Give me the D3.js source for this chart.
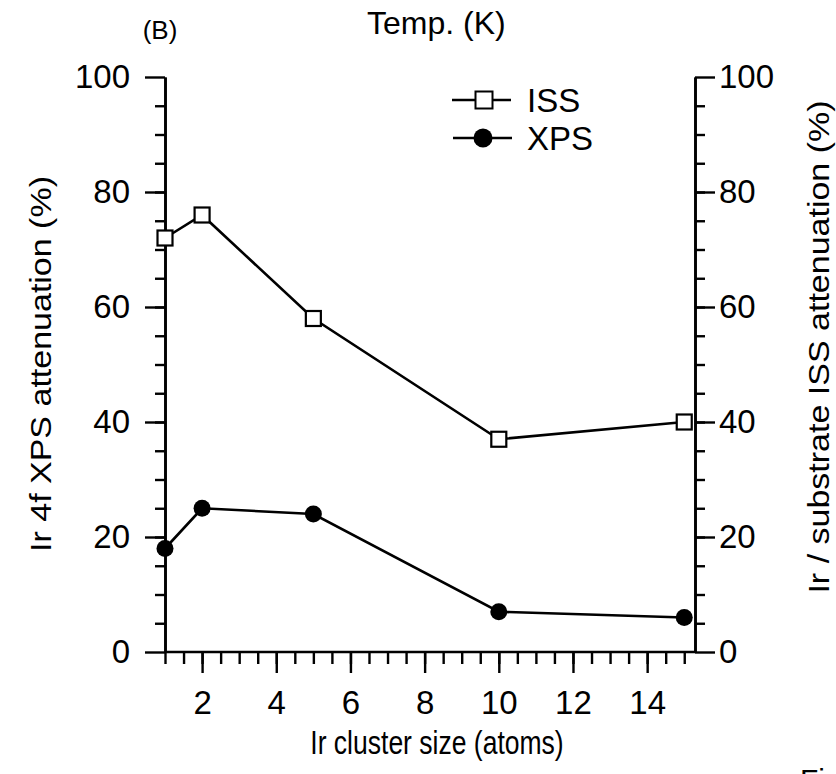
<!DOCTYPE html>
<html>
<head>
<meta charset="utf-8">
<script src="https://cdn.jsdelivr.net/npm/d3@7"></script>
<style>
  body { margin: 0; background: #fff; }
  svg text { font-family: "Liberation Sans", Arial, sans-serif; fill: #000; }
</style>
</head>
<body>
<svg id="chart" width="836" height="774"></svg>
<script>
// cluster size (atoms) and attenuation values (%)
var sizes = [1, 2, 5, 10, 15];
var issVals = [72, 76, 58, 37, 40];
var xpsVals = [18, 25, 24, 7, 6];

var xMajor = [2, 4, 6, 8, 10, 12, 14];
var xMinor = d3.range(1, 15.01, 0.5);
var yMajor = [0, 20, 40, 60, 80, 100];
var yMinor = d3.range(5, 100, 5);

var svg = d3.select('#chart');

var x = d3.scaleLinear().domain([1, 15.29]).range([165, 695]);
var y = d3.scaleLinear().domain([0, 100]).range([652, 77]);

function styleAxis(g) {
    g.selectAll('path.domain').attr('stroke', '#000').attr('stroke-width', 2.6);
    g.selectAll('.tick line').attr('stroke', '#000').attr('stroke-width', 2.4);
    g.selectAll('.tick text').style('font-size', '33px');
}

// x axis: minor ticks every 0.5, long ticks at even numbers
var xa = svg.append('g').attr('transform', 'translate(0,' + y(0) + ')')
    .call(d3.axisBottom(x).tickValues(xMinor).tickSize(12).tickSizeOuter(0).tickFormat(''));
xa.select('path.domain').remove();
var xb = svg.append('g').attr('transform', 'translate(0,' + y(0) + ')')
    .call(d3.axisBottom(x).tickValues(xMajor).tickSize(21).tickPadding(18).tickSizeOuter(0));
xb.select('path.domain').attr('d', 'M' + x(1) + ',0H' + x.range()[1]);
styleAxis(xa); styleAxis(xb);

// left axis
var ya = svg.append('g').attr('transform', 'translate(' + x(1) + ',0)')
    .call(d3.axisLeft(y).tickValues(yMinor).tickSize(10).tickSizeOuter(0).tickFormat(''));
var yb = svg.append('g').attr('transform', 'translate(' + x(1) + ',0)')
    .call(d3.axisLeft(y).tickValues(yMajor).tickSize(20).tickPadding(15).tickSizeOuter(0));
styleAxis(ya); styleAxis(yb);

// right axis
var ra = svg.append('g').attr('transform', 'translate(' + x.range()[1] + ',0)')
    .call(d3.axisRight(y).tickValues(yMinor).tickSize(10).tickSizeOuter(0).tickFormat(''));
var rb = svg.append('g').attr('transform', 'translate(' + x.range()[1] + ',0)')
    .call(d3.axisRight(y).tickValues(yMajor).tickSize(20).tickPadding(4).tickSizeOuter(0));
styleAxis(ra); styleAxis(rb);

// lines
var line = d3.line().x((d, i) => x(sizes[i])).y(d => y(d));
svg.append('path').datum(issVals).attr('d', line)
    .attr('fill', 'none').attr('stroke', '#000').attr('stroke-width', 2.6);
svg.append('path').datum(xpsVals).attr('d', line)
    .attr('fill', 'none').attr('stroke', '#000').attr('stroke-width', 2.6);

// markers
var sq = 15;
svg.selectAll('rect.iss').data(issVals).enter().append('rect')
    .attr('class', 'iss')
    .attr('x', (d, i) => x(sizes[i]) - sq / 2)
    .attr('y', d => y(d) - sq / 2)
    .attr('width', sq).attr('height', sq)
    .attr('fill', '#fff').attr('stroke', '#000').attr('stroke-width', 2.2);
svg.selectAll('circle.xps').data(xpsVals).enter().append('circle')
    .attr('class', 'xps')
    .attr('cx', (d, i) => x(sizes[i]))
    .attr('cy', d => y(d))
    .attr('r', 8.5)
    .attr('fill', '#000');

// legend
var lg = svg.append('g');
lg.append('line').attr('x1', 452).attr('x2', 511).attr('y1', 100).attr('y2', 100)
    .attr('stroke', '#000').attr('stroke-width', 2.4);
lg.append('rect').attr('x', 475.5).attr('y', 91.5).attr('width', 17).attr('height', 17)
    .attr('fill', '#fff').attr('stroke', '#000').attr('stroke-width', 2);
lg.append('text').attr('x', 527).attr('y', 112).style('font-size', '33px').text('ISS');
lg.append('line').attr('x1', 453).attr('x2', 512).attr('y1', 138).attr('y2', 138)
    .attr('stroke', '#000').attr('stroke-width', 2.4);
lg.append('circle').attr('cx', 483).attr('cy', 138).attr('r', 9.5).attr('fill', '#000');
lg.append('text').attr('x', 527).attr('y', 150).style('font-size', '33px').text('XPS');

// titles
svg.append('text').attr('x', 160).attr('y', 39).attr('text-anchor', 'middle')
    .style('font-size', '26px').text('(B)');
svg.append('text').attr('x', 367).attr('y', 34)
    .style('font-size', '32px').text('Temp. (K)');
svg.append('text').attr('transform', 'translate(437,754) scale(0.78,1)')
    .attr('text-anchor', 'middle').style('font-size', '34px')
    .text('Ir cluster size (atoms)');
svg.append('text').attr('transform', 'translate(51,364) rotate(-90) scale(1,0.88)')
    .attr('text-anchor', 'middle').style('font-size', '34px')
    .text('Ir 4f XPS attenuation (%)');
svg.append('text').attr('transform', 'translate(829,347) rotate(-90) scale(1,0.85)')
    .attr('text-anchor', 'middle').style('font-size', '34px')
    .text('Ir / substrate ISS attenuation (%)');
svg.append('text').attr('x', 800).attr('y', 790)
    .style('font-size', '30px').text('Fig');
</script>
</body>
</html>
